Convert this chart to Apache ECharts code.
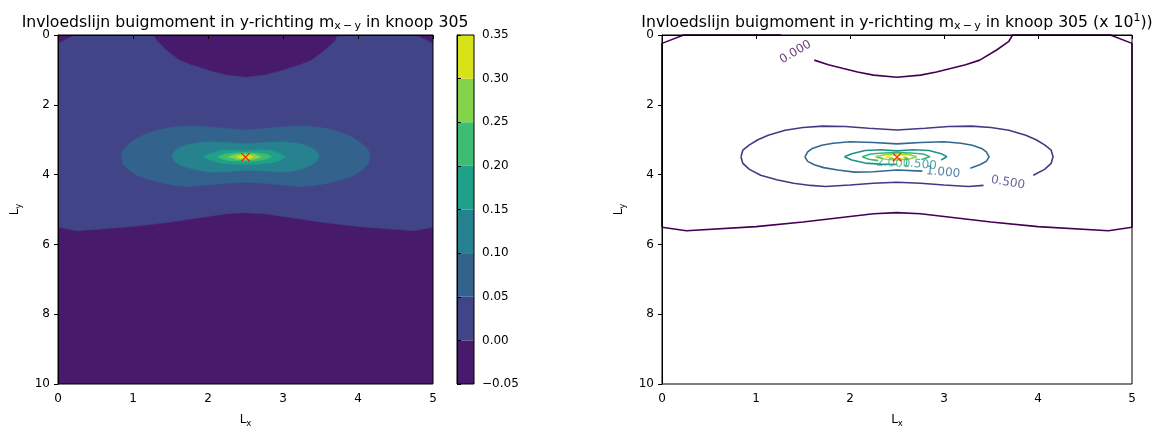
<!DOCTYPE html>
<html>
<head>
<meta charset="utf-8">
<script src="https://cdn.jsdelivr.net/npm/echarts@6/dist/echarts.min.js"></script>
<style>
html,body{margin:0;padding:0;background:#fff;}
#chart{width:1161px;height:426px;}
</style>
</head>
<body>
<div id="chart"></div>
<script>
// ---------- DATA ----------
const xTicks = [0, 1, 2, 3, 4, 5];
const yTicks = [0, 2, 4, 6, 8, 10];
const cbLevels = [-0.05, 0.00, 0.05, 0.10, 0.15, 0.20, 0.25, 0.30, 0.35];
const contourLevels = [0.0, 0.5, 1.0, 1.5, 2.0, 2.5, 3.0];
const node = [2.5, 3.5];

// domain (values below 0 everywhere outside the 0-contour)
const domain = [[0, 0], [5, 0], [5, 10], [0, 10]];

// contour points [x, y] ; third element 1 = hidden under the inline label (right panel)
const c00 = [
  [0, 5.51], [0, 0.24], [0.23, 0], [1.27, 0], [1.31, 0.14, 1], [1.44, 0.43, 1], [1.62, 0.72],
  [1.77, 0.85], [1.93, 0.96], [2.08, 1.06], [2.25, 1.15], [2.50, 1.21], [2.75, 1.15],
  [2.92, 1.06], [3.07, 0.96], [3.23, 0.85], [3.38, 0.72], [3.56, 0.43], [3.69, 0.18],
  [3.73, 0], [4.77, 0], [5, 0.24], [5, 5.51],
  [4.75, 5.61], [4.00, 5.49], [3.50, 5.36], [3.25, 5.28], [3.00, 5.20], [2.75, 5.12],
  [2.50, 5.09], [2.25, 5.12], [2.00, 5.20], [1.75, 5.28], [1.50, 5.36], [1.00, 5.49],
  [0.26, 5.61], [0, 5.51]
];
const c05 = [
  [0.84, 3.49], [0.86, 3.30], [0.93, 3.15], [1.02, 3.00], [1.13, 2.87], [1.31, 2.73],
  [1.50, 2.65], [1.71, 2.61], [1.95, 2.62], [2.20, 2.67], [2.50, 2.72], [2.80, 2.67],
  [3.05, 2.62], [3.29, 2.61], [3.50, 2.65], [3.69, 2.73], [3.87, 2.87], [3.98, 3.00],
  [4.07, 3.15], [4.14, 3.30], [4.16, 3.49], [4.14, 3.68], [4.07, 3.85], [3.95, 4.02],
  [3.78, 4.15, 1], [3.60, 4.25, 1], [3.42, 4.31], [3.26, 4.34], [3.00, 4.30], [2.75, 4.25],
  [2.50, 4.22], [2.25, 4.25], [2.00, 4.30], [1.74, 4.34], [1.58, 4.31], [1.40, 4.25],
  [1.22, 4.15], [1.05, 4.02], [0.93, 3.85], [0.86, 3.68], [0.84, 3.49]
];
const c10 = [
  [1.52, 3.49], [1.55, 3.35], [1.60, 3.25], [1.70, 3.16], [1.82, 3.10], [2.00, 3.06],
  [2.25, 3.08], [2.50, 3.12], [2.75, 3.08], [3.00, 3.06], [3.18, 3.10], [3.30, 3.16],
  [3.40, 3.25], [3.45, 3.35], [3.48, 3.49], [3.45, 3.62], [3.38, 3.72], [3.28, 3.82],
  [3.13, 3.90, 1], [2.95, 3.93, 1], [2.77, 3.90], [2.50, 3.87], [2.25, 3.92], [2.05, 3.93],
  [1.87, 3.87], [1.72, 3.80], [1.62, 3.72], [1.55, 3.62], [1.52, 3.49]
];
const c15 = [
  [1.94, 3.49], [2.02, 3.40], [2.16, 3.31], [2.33, 3.29], [2.50, 3.32], [2.67, 3.29],
  [2.84, 3.31], [2.97, 3.40], [3.03, 3.49], [2.97, 3.58], [2.86, 3.66, 1], [2.67, 3.70, 1],
  [2.50, 3.71], [2.33, 3.70], [2.16, 3.67], [2.02, 3.58], [1.94, 3.49]
];
const c20 = [
  [2.13, 3.49], [2.22, 3.41], [2.35, 3.38], [2.50, 3.37], [2.65, 3.38], [2.78, 3.41],
  [2.85, 3.49], [2.76, 3.57], [2.62, 3.61, 1], [2.45, 3.62, 1], [2.30, 3.60], [2.20, 3.56],
  [2.13, 3.49]
];
const c25 = [
  [2.27, 3.49], [2.38, 3.42], [2.50, 3.41], [2.62, 3.42], [2.71, 3.49], [2.62, 3.56],
  [2.50, 3.58], [2.38, 3.56], [2.27, 3.49]
];
const c30 = [
  [2.38, 3.49], [2.44, 3.45], [2.50, 3.44], [2.56, 3.45], [2.60, 3.49], [2.56, 3.53],
  [2.50, 3.55], [2.44, 3.53], [2.38, 3.49]
];
const contours = [c00, c05, c10, c15, c20, c25, c30];

const labelText = ['0.000', '0.500', '1.000', '1.500', '2.000'];
const labelPos = [[1.42, 0.49], [3.68, 4.23], [2.99, 3.94], [2.74, 3.71], [2.46, 3.68]];
const labelRot = [30, -10, -5, -6, -3];
const labelLevel = [0, 1, 2, 3, 4];

// ---------- STYLE ----------
const FONT = 'DejaVu Sans';
const fillColors = ['#481a6c', '#414487', '#33638d', '#26828e', '#1fa088', '#3fbc73', '#84d44b', '#d8e219'];
const lineColors = ['#440154', '#443a83', '#31688e', '#21918c', '#35b779', '#90d743', '#fde725'];
const fillPolys = [domain].concat(contours);

const chart = echarts.init(document.getElementById('chart'), null, {renderer: 'canvas'});

const richBase = {
  a: {fontFamily: FONT, fontSize: 12, color: '#000', lineHeight: 16, fontWeight: 'normal'},
  s: {fontFamily: FONT, fontSize: 8.5, color: '#000', lineHeight: 2, verticalAlign: 'bottom', fontWeight: 'normal'}
};
const titleRich = {
  a: {fontFamily: FONT, fontSize: 15.7, color: '#000', lineHeight: 19, fontWeight: 'normal'},
  s: {fontFamily: FONT, fontSize: 11, color: '#000', lineHeight: 2, verticalAlign: 'bottom', fontWeight: 'normal'},
  p: {fontFamily: FONT, fontSize: 11, color: '#000', lineHeight: 4, verticalAlign: 'top', fontWeight: 'normal'}
};

function xAx(grid, withName) {
  return {
    gridIndex: grid, type: 'value', min: xTicks[0], max: xTicks[xTicks.length - 1], interval: 1,
    position: 'bottom', z: 10,
    axisLine: {show: true, lineStyle: {color: '#000', width: 1}},
    axisTick: {show: true, length: 4, lineStyle: {color: '#000', width: 1}},
    axisLabel: {color: '#000', fontFamily: FONT, fontSize: 12, margin: 9, showMinLabel: true, showMaxLabel: true},
    splitLine: {show: false},
    name: withName ? '{a|L}{s|x}' : '', nameLocation: 'middle', nameGap: 28,
    nameTextStyle: {rich: richBase}
  };
}
function yAx(grid) {
  return {
    gridIndex: grid, type: 'value', min: yTicks[0], max: yTicks[yTicks.length - 1], interval: 2,
    inverse: true, position: 'left', z: 10,
    axisLine: {show: true, lineStyle: {color: '#000', width: 1}},
    axisTick: {show: true, length: 4, lineStyle: {color: '#000', width: 1}},
    axisLabel: {color: '#000', fontFamily: FONT, fontSize: 12, margin: 8, showMinLabel: true, showMaxLabel: true},
    splitLine: {show: false},
    name: '{a|L}{s|y}', nameLocation: 'middle', nameGap: 35, nameRotate: 90,
    nameTextStyle: {rich: richBase}
  };
}

const series = [];
// left: filled contours
series.push({
  type: 'custom', xAxisIndex: 0, yAxisIndex: 0, clip: true, z: 1,
  data: fillPolys.map(p => [p[0][0], p[0][1]]),
  renderItem: (params, api) => {
    const poly = fillPolys[params.dataIndex];
    return {
      type: 'polygon',
      shape: {points: poly.map(p => api.coord([p[0], p[1]]))},
      style: {fill: fillColors[params.dataIndex], stroke: fillColors[params.dataIndex], lineWidth: 0.5}
    };
  }
});
// colorbar
series.push({
  type: 'custom', xAxisIndex: 1, yAxisIndex: 1, clip: true, z: 1,
  data: cbLevels.slice(0, -1).map((lo, i) => [lo, cbLevels[i + 1]]),
  renderItem: (params, api) => {
    const lo = api.value(0), hi = api.value(1);
    const p0 = api.coord([0, hi]);
    const p1 = api.coord([1, lo]);
    return {type: 'rect', shape: {x: p0[0], y: p0[1], width: p1[0] - p0[0], height: p1[1] - p0[1]},
      style: {fill: fillColors[params.dataIndex]}};
  },
  encode: {x: -1, y: [0, 1]}
});
// right: contour lines
contours.forEach((c, i) => {
  series.push({
    type: 'line', xAxisIndex: 2, yAxisIndex: 2, showSymbol: false, symbol: 'none',
    connectNulls: false, clip: false, z: 3, silent: true,
    lineStyle: {color: lineColors[i], width: 1.6},
    data: c.map(p => p[2] ? '-' : [p[0], p[1]])
  });
});
// contour labels
series.push({
  type: 'scatter', xAxisIndex: 2, yAxisIndex: 2, symbolSize: 0, z: 4, silent: true,
  data: labelPos.map((p, i) => ({
    value: p,
    label: {show: true, position: 'inside', formatter: labelText[i], rotate: labelRot[i],
      color: lineColors[labelLevel[i]], fontFamily: FONT, fontSize: 12}
  }))
});
// node markers
const xPath = 'path://M1,0L5,4L9,0L10,1L6,5L10,9L9,10L5,6L1,10L0,9L4,5L0,1Z';
[[0, 0], [2, 2]].forEach(ax => {
  series.push({
    type: 'scatter', xAxisIndex: ax[0], yAxisIndex: ax[1], symbol: xPath, symbolSize: 9, z: 6,
    itemStyle: {color: '#ff0000'}, silent: true, data: [node]
  });
});

const gridBase = {show: true, borderColor: '#000', borderWidth: 1, backgroundColor: 'transparent', z: 10,
  containLabel: false, outerBoundsMode: 'none'};

const option = {
  animation: false,
  backgroundColor: '#fff',
  title: [
    {text: '{a|Invloedslijn buigmoment in y-richting m}{s|x\u2009−\u2009y}{a| in knoop 305}',
     left: 240, top: 8, textAlign: 'center', textStyle: {fontWeight: 'normal', rich: titleRich}},
    {text: '{a|Invloedslijn buigmoment in y-richting m}{s|x\u2009−\u2009y}{a| in knoop 305 (x 10}{p|1}{a|))}',
     left: 892, top: 8, textAlign: 'center', textStyle: {fontWeight: 'normal', rich: titleRich}}
  ],
  grid: [
    Object.assign({left: 58, top: 35, width: 375, height: 349}, gridBase),
    Object.assign({left: 457, top: 35, width: 17, height: 349}, gridBase),
    Object.assign({left: 662, top: 35, width: 470, height: 349}, gridBase)
  ],
  xAxis: [
    xAx(0, true),
    {gridIndex: 1, type: 'value', min: 0, max: 1, show: false},
    xAx(2, true)
  ],
  yAxis: [
    yAx(0),
    {gridIndex: 1, type: 'value', min: cbLevels[0], max: cbLevels[cbLevels.length - 1], interval: 0.05,
     position: 'right', z: 10,
     axisLine: {show: true, lineStyle: {color: '#000', width: 1}},
     axisTick: {show: true, length: 4, lineStyle: {color: '#000', width: 1}},
     axisLabel: {color: '#000', fontFamily: FONT, fontSize: 12, margin: 8, showMinLabel: true, showMaxLabel: true,
       formatter: v => (Math.abs(v) < 1e-9 ? '0.00' : v.toFixed(2).replace('-', '−'))},
     splitLine: {show: false}},
    yAx(2)
  ],
  series: series
};
chart.setOption(option);
</script>
</body>
</html>
